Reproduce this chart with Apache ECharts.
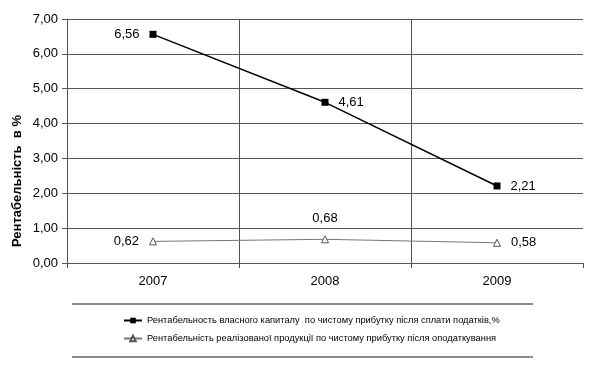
<!DOCTYPE html>
<html><head><meta charset="utf-8">
<script src="https://cdn.jsdelivr.net/npm/echarts@6/dist/echarts.min.js"></script>
<style>html,body{margin:0;padding:0;background:#fff}#c{width:596px;height:366px}</style>
</head><body><div id="c"></div>
<script>
const categories = ['2007', '2008', '2009'];
const seriesNames = [
  'Рентабельность власного капиталу  по чистому прибутку після сплати податків,%',
  'Рентабельність реалізованої продукції по чистому прибутку після оподаткування'
];
const equityReturn = [6.56, 4.61, 2.21];
const salesReturn = [0.62, 0.68, 0.58];
const equityLabelPos = ['left', 'right', 'right'];
const salesLabelPos = ['left', 'top', 'right'];
const yTitle = 'Рентабельність  в %';

const fmt = v => v.toFixed(2).replace('.', ',');
const font = 'Liberation Sans, Arial, sans-serif';

const chart = echarts.init(document.getElementById('c'), null, {renderer: 'canvas'});
chart.setOption({
  animation: false,
  backgroundColor: '#fff',
  textStyle: {fontFamily: font},
  grid: {left: 67, right: 13, top: 19, bottom: 103},
  xAxis: {
    type: 'category',
    data: categories,
    boundaryGap: true,
    axisLine: {lineStyle: {color: '#555', width: 1}},
    axisTick: {show: true, length: 5, lineStyle: {color: '#555'}},
    axisLabel: {color: '#000', fontSize: 13, margin: 12, fontFamily: font},
    splitLine: {show: true, showMaxLine: false, lineStyle: {color: '#555', width: 1}}
  },
  yAxis: {
    type: 'value',
    min: 0, max: 7, interval: 1,
    axisLine: {show: true, lineStyle: {color: '#555', width: 1}},
    axisTick: {show: true, length: 5, lineStyle: {color: '#555'}},
    axisLabel: {color: '#000', fontSize: 13, margin: 9, formatter: v => fmt(v), fontFamily: font},
    splitLine: {show: true, lineStyle: {color: '#555', width: 1}}
  },
  legend: {
    orient: 'vertical',
    left: 118, top: 311,
    itemGap: 9,
    itemWidth: 18, itemHeight: 7,
    textStyle: {color: '#000', fontSize: 9.3, fontFamily: font},
    data: seriesNames
  },
  graphic: [
    {type: 'text', x: 17, y: 181, rotation: Math.PI / 2,
     style: {text: yTitle, fill: '#000', font: 'bold 13px ' + font, textAlign: 'center', textVerticalAlign: 'middle'}},
    {type: 'line', shape: {x1: 72, y1: 304, x2: 533, y2: 304}, style: {stroke: '#666', lineWidth: 1.5}},
    {type: 'line', shape: {x1: 72, y1: 357, x2: 533, y2: 357}, style: {stroke: '#666', lineWidth: 1.5}}
  ],
  series: [
    {
      name: seriesNames[0],
      type: 'line',
      data: equityReturn.map((v, i) => ({value: v, label: {position: equityLabelPos[i]}})),
      symbol: 'rect', symbolSize: 7,
      lineStyle: {color: '#000', width: 1.5},
      itemStyle: {color: '#000'},
      label: {show: true, color: '#000', fontSize: 13, distance: 10, formatter: p => fmt(p.value), fontFamily: font}
    },
    {
      name: seriesNames[1],
      type: 'line',
      data: salesReturn.map((v, i) => ({value: v, label: {position: salesLabelPos[i]}})),
      symbol: 'triangle', symbolSize: 7,
      lineStyle: {color: '#777', width: 1},
      itemStyle: {color: '#fff', borderColor: '#555', borderWidth: 1},
      label: {show: true, color: '#000', fontSize: 13, distance: 10, formatter: p => fmt(p.value), fontFamily: font}
    }
  ]
});
</script></body></html>
